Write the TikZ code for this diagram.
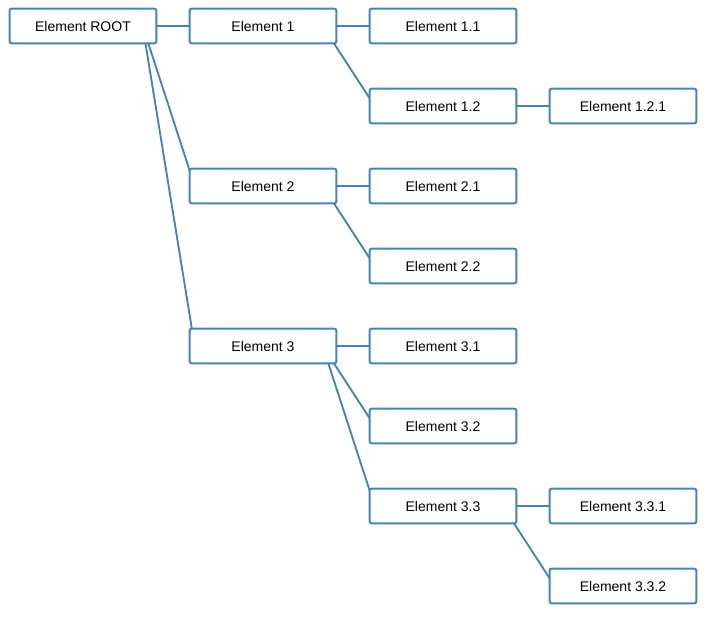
\documentclass[tikz,border=0pt]{standalone}
\usepackage{fontspec}
\setmainfont{Liberation Sans}
\usetikzlibrary{backgrounds}
\definecolor{edgeblue}{RGB}{70,130,180}

\begin{document}
\begin{tikzpicture}[x=0.75pt,y=-0.75pt,
	box/.style={draw=edgeblue,line width=1.5pt,fill=white,rounded corners=1.5pt,minimum width=110pt,minimum height=26pt,inner sep=0pt,font=\fontsize{10.5}{12}\selectfont},
	link/.style={draw=edgeblue,line width=1.4pt}]
			\useasboundingbox (0,0) rectangle (716,628);
			\node(R) at (83,26)[box]{Element ROOT};
			
			\node(E1) at (263,26)[box]{Element 1};
			\node(E2) at (263,186)[box]{Element 2};
			\node(E3) at (263,346)[box]{Element 3};
			
			\node(E11) at (443,26)[box]{Element 1.1};
			\node(E12) at (443,106)[box]{Element 1.2};
			\node(E21) at (443,186)[box]{Element 2.1};
			\node(E22) at (443,266)[box]{Element 2.2};
			\node(E31) at (443,346)[box]{Element 3.1};
			\node(E32) at (443,426)[box]{Element 3.2};
			\node(E33) at (443,506)[box]{Element 3.3};
			
			\node(E121) at (623,106)[box]{Element 1.2.1};
			\node(E331) at (623,506)[box]{Element 3.3.1};
			\node(E332) at (623,586)[box]{Element 3.3.2};
			
			\begin{scope}[on background layer]
			\draw[link] (R) -- (E1);
			\draw[link] ([xshift=-11pt]R.east) -- ([xshift=4.5pt]E2.west);
			\draw[link] ([xshift=-11pt]R.east) -- ([xshift=4.5pt]E3.west);
			
			\draw[link] (E1) -- (E11);
			\draw[link] ([xshift=-11pt]E1.east) -- ([xshift=4.5pt]E12.west);
			\draw[link] (E12) -- (E121);
			
			\draw[link] (E2) -- (E21);
			\draw[link] ([xshift=-11pt]E2.east) -- ([xshift=4.5pt]E22.west);
			
			\draw[link] (E3) -- (E31);
			\draw[link] ([xshift=-11pt]E3.east) -- ([xshift=4.5pt]E32.west);
			\draw[link] ([xshift=-11pt]E3.east) -- ([xshift=4.5pt]E33.west);
			\draw[link] (E33) -- (E331);
			\draw[link] ([xshift=-11pt]E33.east) -- ([xshift=4.5pt]E332.west);
			\end{scope}
		\end{tikzpicture}
\end{document}
